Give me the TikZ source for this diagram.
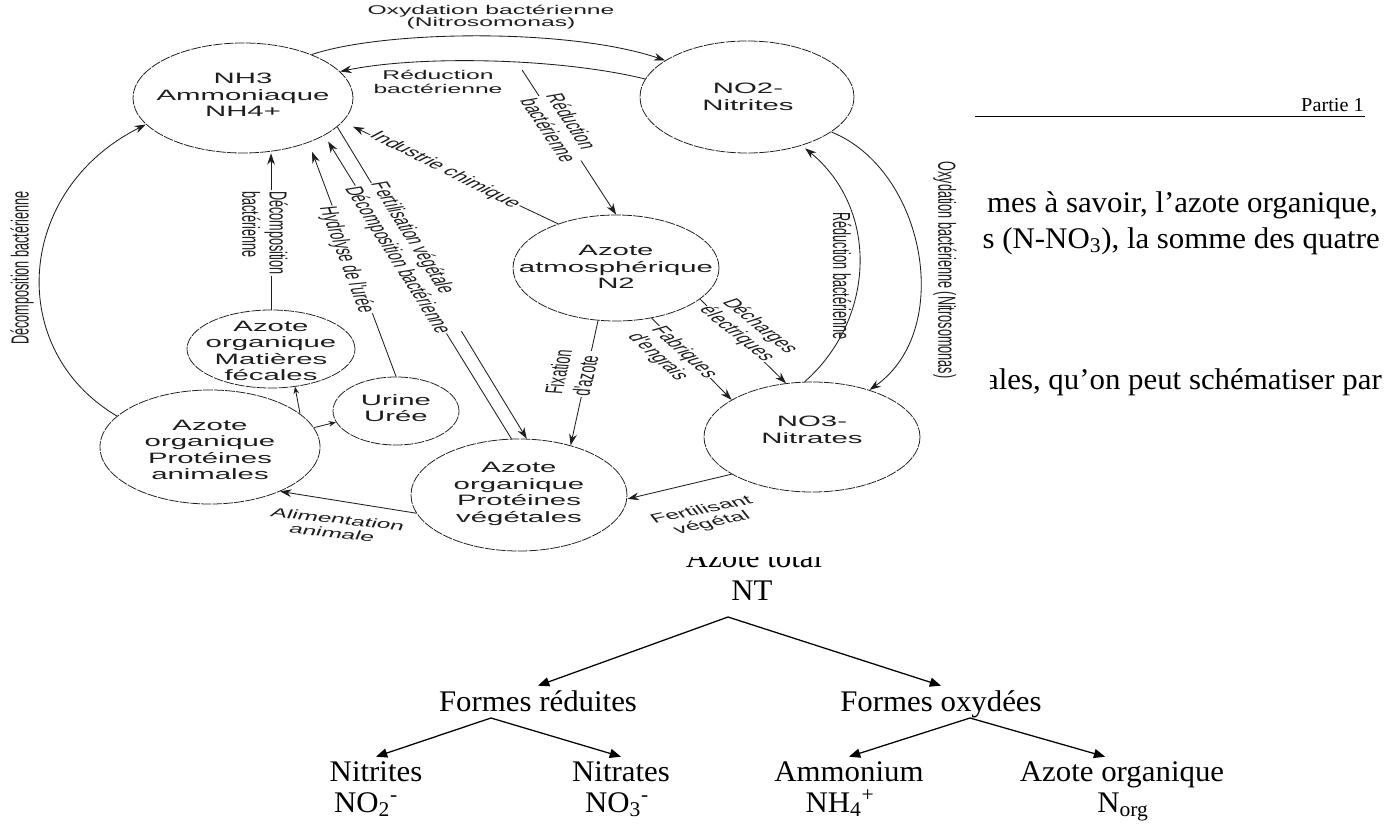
\documentclass[tikz,border=0pt]{standalone}
\usepackage{fontspec}
\setmainfont{Liberation Serif}
\newfontfamily\cyclefont{Liberation Sans}
\newfontfamily\pagefont[FakeStretch=1.03]{Liberation Serif}
\usetikzlibrary{arrows.meta, shapes.geometric}
\definecolor{Scan}{HTML}{1E1E1E}

\tikzset{
  pool/.style n args={2}{ellipse, draw=Scan, line width=0.55pt,
    dash pattern=on 7pt off 0.8pt, inner sep=0pt,
    minimum width={#1*0.025641cm}, minimum height={#2*0.05cm}},
  pooltext/.style={font=\cyclefont\fontsize{10.7}{11.8}\selectfont, align=center, text=Scan},
  flux/.style={draw=Scan, line width=0.6pt, -{Stealth[length=8pt, width=5.5pt]}},
  smallflux/.style={draw=Scan, line width=0.6pt, -{Stealth[length=5pt, width=4pt]}},
  fluxlabel/.style={font=\cyclefont\fontsize{9}{10}\selectfont, text=Scan, inner sep=1.5pt},
  gap/.style={fluxlabel, fill=white, inner sep=0.6pt},
  pagetext/.style={font=\pagefont\fontsize{21.3}{26}\selectfont, inner sep=0pt},
  leaf/.style={pagetext, inner xsep=0pt, inner ysep=3pt},
  branch/.style={draw=black, line width=0.9pt, -{Triangle[length=8pt, width=6.5pt]}}
}

\begin{document}
\begin{tikzpicture}[x=0.025cm, y=-0.025cm]
  \fill[white] (0,0) rectangle (1394,827);
  \useasboundingbox (0,0) rectangle (1394,827);

  % cycle de l'azote
  \begin{scope}[xscale=1.95, x=0.0128205cm, transform shape]
    \node[pool={110}{55}] (nh3) at (243,98) {};
    \node[pool={107}{56}] (no2) at (747,97) {};
    \node[pool={103}{53}] (n2) at (616,268) {};
    \node[pool={108}{55}] (no3) at (812,437) {};
    \node[pool={84}{39}] (fec) at (271,349) {};
    \node[pool={63}{34}] (urine) at (396,411) {};
    \node[pool={110}{57}] (anim) at (210,447) {};
    \node[pool={108}{56}] (veg) at (519,495) {};

    \node[pooltext] (nh3-t) at (243,95) {NH3\\Ammoniaque\\NH4+};
    \node[pooltext] (no2-t) at (748,97) {NO2-\\Nitrites};
    \node[pooltext] (n2-t) at (616,267) {Azote\\atmosphérique\\N2};
    \node[pooltext] (no3-t) at (812,430) {NO3-\\Nitrates};
    \node[pooltext] (fec-t) at (271,351) {Azote\\organique\\Matières\\fécales};
    \node[pooltext] (urine-t) at (396,408) {Urine\\Urée};
    \node[pooltext] (anim-t) at (210,450) {Azote\\organique\\Protéines\\animales};
    \node[pooltext] (veg-t) at (519,494) {Azote\\organique\\Protéines\\végétales};

    \coordinate (redtop) at (522,70);
    \draw[flux] (nh3.51) .. controls (385,30) and (570,28) .. (no2.139);
    \draw[flux] (no2.161) .. controls (560,58) and (420,55) .. (nh3.28);
    \draw[flux] (anim.147) .. controls (5,350) and (15,190) .. (nh3.208);
    \draw[flux] (fec.north) -- (fec.north |- nh3.south);
    \draw[flux, shorten >=7pt] (urine.north) -- (nh3.-53);
    \draw[flux, shorten >=5pt] (veg.94) -- (nh3.-42);
    \draw[flux] (nh3.-31) -- (veg.86);
    \draw[flux, shorten >=8pt] (n2.124) -- (nh3.-25);
    \draw[flux] (redtop) -- (n2.north);
    \draw[flux] (n2.-100) -- (veg.62);
    \draw[flux] (n2.-70) -- (no3.138);
    \draw[flux] (n2.-36) -- (no3.104);
    \draw[flux] (no3.222) -- (veg.-4);
    \draw[flux] (veg.199) -- (anim.-51);
    \draw[smallflux] (anim.36) -- (fec.-72);
    \draw[smallflux] (anim.20) -- (urine.200);
    \draw[flux, shorten >=3pt] (no3.94) .. controls (875,320) and (880,210) .. (no2.-60);
    \draw[flux] (no2.-39) .. controls (925,170) and (955,330) .. (no3.58);

    \node[fluxlabel, align=center, font=\cyclefont\fontsize{9}{8.5}\selectfont] (l-oxy) at (491,17) {Oxydation bactérienne\\(Nitrosomonas)};
    \node[fluxlabel, align=center] (l-red) at (438,82) {Réduction\\bactérienne};
    \node[fluxlabel, rotate=90] (l-decomp) at (22,268) {Décomposition bactérienne};
    \node[gap, rotate=-90, align=left] (l-fec) at (265,233) {Décomposition\\bactérienne};
    \node[gap, rotate=-79] (l-hyd) at (346,260) {Hydrolyse de l'urée};
    \node[gap, rotate=-72, align=left] (l-fert) at (410,258) {Fertilisation végétale\\Décomposition bactérienne};
    \node[gap, rotate=-44] (l-ind) at (445,170) {Industrie chimique};
    \node[gap, rotate=-71, align=left] (l-redn2) at (562,128) {Réduction\\bactérienne};
    \node[gap, rotate=83, align=left] (l-fix) at (572,373) {Fixation\\d'azote};
    \node[gap, rotate=-60, align=left] (l-fab) at (672,356) {Fabriques\\d'engrais};
    \node[gap, rotate=-57, align=left] (l-dech) at (748,330) {Décharges\\électriques};
    \node[fluxlabel, rotate=22, align=center] (l-fv) at (707,517) {Fertilisant\\végétal};
    \node[fluxlabel, rotate=-12, align=center] (l-alim) at (335,526) {Alimentation\\animale};
    \node[fluxlabel, rotate=-90] (l-rednr) at (842,276) {Réduction bactérienne};
    \node[fluxlabel, rotate=-90] (l-oxyr) at (945,270) {Oxydation bactérienne (Nitrosomonas)};
  \end{scope}

  % page
  \draw[line width=0.6pt] (975,116) -- (1365,116);
  \node[pagetext, font=\pagefont\fontsize{14}{16}\selectfont, anchor=base east] (partie) at (1364,112) {Partie 1};
  \begin{scope}
    \clip (972,150) rectangle (1394,300);
    \node[pagetext, anchor=base east] (txt1) at (1378,213) {mes à savoir, l’azote organique,};
    \node[pagetext, anchor=base east] (txt2) at (1380,248) {s (N-NO\textsubscript{3}), la somme des quatre};
  \end{scope}
  \begin{scope}
    \clip (990,330) rectangle (1394,420);
    \node[pagetext, anchor=base east] (txt3) at (1382,389) {ales, qu’on peut schématiser par};
  \end{scope}

  \begin{scope}
    \clip (600,557) rectangle (900,600);
    \node[pagetext, anchor=base] (ntot) at (754,567) {Azote total};
  \end{scope}
  \node[pagetext, anchor=base] (nt) at (752,600) {NT};
  \coordinate (ntfork) at (728,617);
  \node[leaf, anchor=base] (fred) at (538,711) {Formes réduites};
  \node[leaf, anchor=base] (foxy) at (941,711) {Formes oxydées};
  \draw[branch] (ntfork) -- (fred.north);
  \draw[branch] (ntfork) -- (foxy.north);

  \coordinate (redfork) at (491,718);
  \coordinate (oxyfork) at (970,718);
  \node[leaf, anchor=base] (nitri) at (376,781) {Nitrites};
  \node[leaf, anchor=base] (nitra) at (621,781) {Nitrates};
  \node[leaf, anchor=base] (ammo) at (849,781) {Ammonium};
  \node[leaf, anchor=base] (azorg) at (1122,781) {Azote organique};
  \node[leaf, anchor=base] (no2f) at (366,812) {NO\textsubscript{2}\textsuperscript{-}};
  \node[leaf, anchor=base] (no3f) at (617,812) {NO\textsubscript{3}\textsuperscript{-}};
  \node[leaf, anchor=base] (nh4f) at (840,812) {NH\textsubscript{4}\textsuperscript{+}};
  \node[leaf, anchor=base] (norgf) at (1123,812) {N\textsubscript{org}};
  \draw[branch] (redfork) -- (nitri.north);
  \draw[branch] (redfork) -- (nitra.north);
  \draw[branch] (oxyfork) -- (ammo.north);
  \draw[branch] (oxyfork) -- ([xshift=-12pt]azorg.north);
\end{tikzpicture}
\end{document}
